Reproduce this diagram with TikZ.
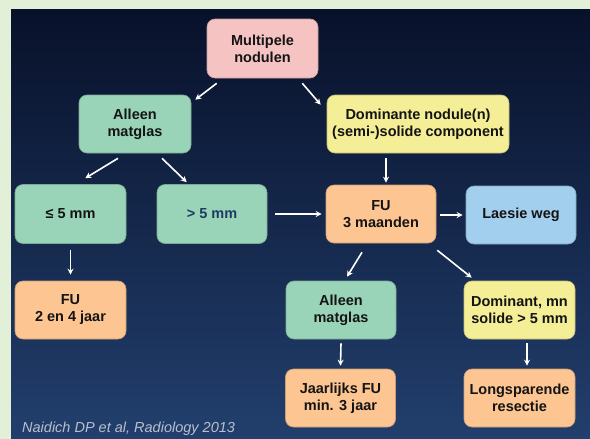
\documentclass[tikz,border=0pt]{standalone}
\usepackage{fontspec}
\setmainfont{Liberation Sans}
\usetikzlibrary{arrows.meta,calc}
\definecolor{outerbg}{HTML}{E3F0D8}
\definecolor{paneltop}{HTML}{08112A}
\definecolor{panelbot}{HTML}{223F6D}
\definecolor{cpink}{HTML}{F6C3C3}
\definecolor{cgreen}{HTML}{9AD4B8}
\definecolor{cyellow}{HTML}{F4EE96}
\definecolor{corange}{HTML}{FCC592}
\definecolor{cblue}{HTML}{A3CFEE}
\definecolor{ctext}{HTML}{141414}
\definecolor{cdarkblue}{HTML}{1F3A60}
\definecolor{ccite}{HTML}{B8C0CE}
\begin{document}
\begin{tikzpicture}[x=1pt,y=-1pt,
  box/.style={rectangle, rounded corners=8pt, draw=#1!80!black, line width=0.6pt, fill=#1,
    align=center, inner sep=0pt, text=ctext,
    font=\fontsize{14.5}{17}\selectfont\bfseries},
  arr/.style={draw=white, line width=1.6pt, -{Stealth[length=6pt,width=6pt]}}]
\useasboundingbox (0,0) rectangle (590,439);
\fill[outerbg] (0,0) rectangle (590,439);
\shade[top color=paneltop, bottom color=panelbot] (11,9) rectangle (590,439);
% nodes
\node[box=cpink, minimum width=111pt, minimum height=59pt] (mult) at (262.5,48.5) {Multipele\\nodulen};
\node[box=cgreen, minimum width=112pt, minimum height=58pt] (all1) at (135,124) {Alleen\\matglas};
\node[box=cyellow, minimum width=182pt, minimum height=58pt] (dom) at (418,124) {Dominante nodule(n)\\(semi-)solide component};
\node[box=cgreen, minimum width=111pt, minimum height=59pt] (le5) at (70.5,214) {≤ 5 mm};
\node[box=cgreen, minimum width=110pt, minimum height=59pt, text=cdarkblue] (gt5) at (212,214) {> 5 mm};
\node[box=corange, minimum width=110pt, minimum height=58pt] (fu3) at (381,214) {FU\\3 maanden};
\node[box=cblue, minimum width=110pt, minimum height=58pt] (laes) at (521,215) {Laesie weg};
\node[box=corange, minimum width=111pt, minimum height=58pt] (fu24) at (70.5,310) {FU\\2 en 4 jaar};
\node[box=cgreen, minimum width=110pt, minimum height=58pt] (all2) at (341,310) {Alleen\\matglas};
\node[box=cyellow, minimum width=111pt, minimum height=58pt] (domn) at (519.5,310) {Dominant, mn\\solide > 5 mm};
\node[box=corange, minimum width=110pt, minimum height=58pt] (jaar) at (340.5,398) {Jaarlijks FU\\min. 3 jaar};
\node[box=corange, minimum width=111pt, minimum height=58pt] (long) at (519.5,398) {Longsparende\\resectie};
\node[anchor=base west, inner sep=0pt, text=ccite, font=\fontsize{14.5}{16}\selectfont\itshape] (cite) at (22,432) {Naidich DP et al, Radiology 2013};
% arrows
\draw[arr] ($(mult.south west)+(10,5)$) -- ($(all1.north east)+(4,5)$);
\draw[arr] ($(mult.south east)+(-16,5)$) -- ($(dom.north west)+(-6,10)$);
\draw[arr] ($(all1.south)+(-17,5)$) -- ($(le5.north east)+(-41,-6)$);
\draw[arr] ($(all1.south)+(27,5)$) -- ($(gt5.north west)+(30,-2)$);
\draw[arr] ($(dom.south)+(-32,5)$) -- ($(fu3.north)+(5,-2)$);
\draw[arr] ($(gt5.east)+(8,0)$) -- ($(fu3.west)+(-4,0)$);
\draw[arr] ($(fu3.east)+(4,1)$) -- ($(laes.west)+(-3,0)$);
\draw[arr] ($(le5.south)+(0,6)$) -- ($(fu24.north)+(0,-6)$);
\draw[arr] ($(fu3.south)+(-19,9)$) -- ($(all2.north)+(6,-4)$);
\draw[arr] ($(fu3.south east)+(1,7)$) -- ($(domn.north west)+(8,-3)$);
\draw[arr] ($(all2.south)+(0,4)$) -- ($(jaar.north)+(0,-3)$);
\draw[arr] ($(domn.south)+(7.5,4)$) -- ($(long.north)+(7.5,-3)$);
\end{tikzpicture}
\end{document}
